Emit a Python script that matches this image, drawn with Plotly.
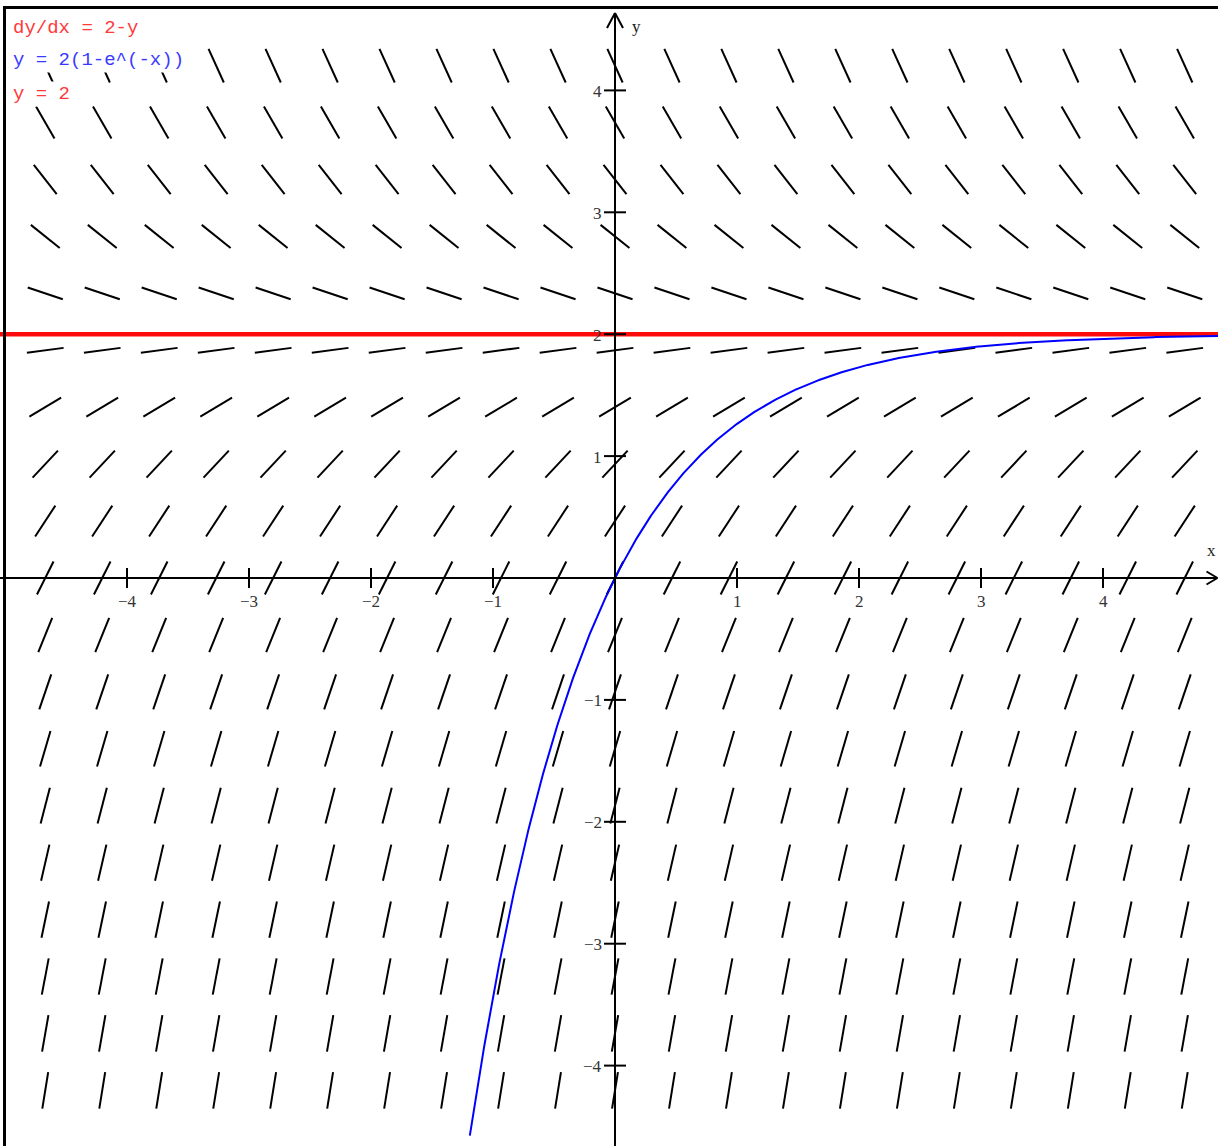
import numpy as np
import plotly.graph_objects as go

# ---- data -------------------------------------------------------------
# slope field dy/dx = 2 - y sampled on a regular grid
grid_step = 0.467
grid_cols = list(range(-10, 11))
grid_rows = list(range(-9, 10))

# particular solution y = 2(1 - e^(-x)) and equilibrium y = 2
curve_x_start = -1.19
equilibrium_y = 2.0

x_ticks = [-4, -3, -2, -1, 1, 2, 3, 4]
y_ticks = [-4, -3, -2, -1, 1, 2, 3, 4]
legend_lines = [("dy/dx = 2-y", "#ff3a3a"),
                ("y = 2(1-e^(-x))", "#3a3aff"),
                ("y = 2", "#ff3a3a")]

# ---- geometry ---------------------------------------------------------
W, H = 1218, 1146
SX, SY = 122.0, 121.9          # pixels per unit
X0_PX, Y0_PX = 615, 578        # pixel location of the origin
x_range = [-X0_PX / SX, (W - X0_PX) / SX]
y_range = [-(H - Y0_PX) / SY, Y0_PX / SY]
SEG_PX = 37.0                  # length of each direction segment

def slope(x, y):
    return 2.0 - y

# direction segments of the field, one None-separated trace
seg_x, seg_y = [], []
for j in grid_rows:
    for i in grid_cols:
        cx, cy = i * grid_step, j * grid_step
        m = slope(cx, cy)
        dxp, dyp = 1.0, m
        n = np.hypot(dxp, dyp)
        hx = 0.5 * SEG_PX * dxp / n / SX
        hy = 0.5 * SEG_PX * dyp / n / SY
        seg_x += [cx - hx, cx + hx, None]
        seg_y += [cy - hy, cy + hy, None]

cx_vals = np.linspace(curve_x_start, x_range[1], 800)
cy_vals = 2.0 * (1.0 - np.exp(-cx_vals))

fig = go.Figure()
fig.add_trace(go.Scatter(x=seg_x, y=seg_y, mode="lines",
                         line=dict(color="black", width=2),
                         hoverinfo="skip", showlegend=False))
fig.add_trace(go.Scatter(x=[x_range[0], x_range[1]], y=[equilibrium_y, equilibrium_y],
                         mode="lines", line=dict(color="#ff0a0a", width=4.5),
                         hoverinfo="skip", showlegend=False))
fig.add_trace(go.Scatter(x=cx_vals, y=cy_vals, mode="lines",
                         line=dict(color="#0000ff", width=2),
                         hoverinfo="skip", showlegend=False))

shapes = []
line_k = dict(color="black", width=2)

# coordinate axes
x_tip = x_range[1] - 0.5 / SX
y_tip = y_range[1] - 13 / SY
shapes.append(dict(type="line", x0=x_range[0], x1=x_tip, y0=0, y1=0, line=line_k))
shapes.append(dict(type="line", x0=0, x1=0, y0=y_range[0], y1=y_tip, line=line_k))
# arrow heads
for s in (1, -1):
    shapes.append(dict(type="line", x0=x_tip, y0=0,
                       x1=x_tip - 11 / SX, y1=s * 6.5 / SY, line=line_k))
    shapes.append(dict(type="line", x0=0, y0=y_tip,
                       x1=s * 8 / SX, y1=y_tip - 15 / SY, line=line_k))
# tick marks
for t in x_ticks:
    shapes.append(dict(type="line", x0=t, x1=t, y0=-10 / SY, y1=10 / SY, line=line_k))
for t in y_ticks:
    shapes.append(dict(type="line", y0=t, y1=t, x0=-11 / SX, x1=11 / SX, line=line_k))

# window frame (left and top edges)
shapes.append(dict(type="line", xref="paper", yref="paper",
                   x0=4.5 / W, x1=4.5 / W, y0=0, y1=1 - 6 / H,
                   line=dict(color="black", width=3)))
shapes.append(dict(type="line", xref="paper", yref="paper",
                   x0=3 / W, x1=1, y0=1 - 7.5 / H, y1=1 - 7.5 / H,
                   line=dict(color="black", width=3)))

annotations = []
tick_font = dict(family="Liberation Serif, Times New Roman, serif", size=17, color="#333333")
for t in x_ticks:
    lab = str(t).replace("-", "\u2212")
    annotations.append(dict(x=t, y=0, text=lab, showarrow=False, xanchor="center",
                            yanchor="middle", yshift=-23, font=tick_font))
for t in y_ticks:
    lab = str(t).replace("-", "\u2212")
    annotations.append(dict(x=0, y=t, text=lab, showarrow=False, xanchor="right",
                            yanchor="middle", xshift=-11, yshift=-1, font=tick_font))

axis_font = dict(family="Liberation Serif, Times New Roman, serif", size=17, color="#222222")
annotations.append(dict(x=x_range[1], y=0, text="x", showarrow=False, xanchor="center",
                        yanchor="middle", xshift=-7, yshift=28, font=axis_font))
annotations.append(dict(x=0, y=y_range[1], text="y", showarrow=False, xanchor="center",
                        yanchor="middle", xshift=21, yshift=-26, font=axis_font))

# legend text sits on white boxes that mask the field behind it
legend_rows_px = [28, 60, 94]
for (txt, col), row_px in zip(legend_lines, legend_rows_px):
    annotations.append(dict(xref="paper", yref="paper", x=11 / W, y=1 - row_px / H,
                            text=txt, showarrow=False, xanchor="left", yanchor="middle",
                            bgcolor="white", borderpad=1,
                            font=dict(family="Liberation Mono, Courier New, monospace",
                                      size=19, color=col)))

fig.update_layout(
    width=W, height=H,
    margin=dict(l=0, r=0, t=0, b=0, pad=0),
    paper_bgcolor="white", plot_bgcolor="white",
    xaxis=dict(range=x_range, visible=False, showgrid=False, zeroline=False, fixedrange=True),
    yaxis=dict(range=y_range, visible=False, showgrid=False, zeroline=False, fixedrange=True),
    shapes=shapes, annotations=annotations,
    showlegend=False,
)

fig.write_html("out.html")
